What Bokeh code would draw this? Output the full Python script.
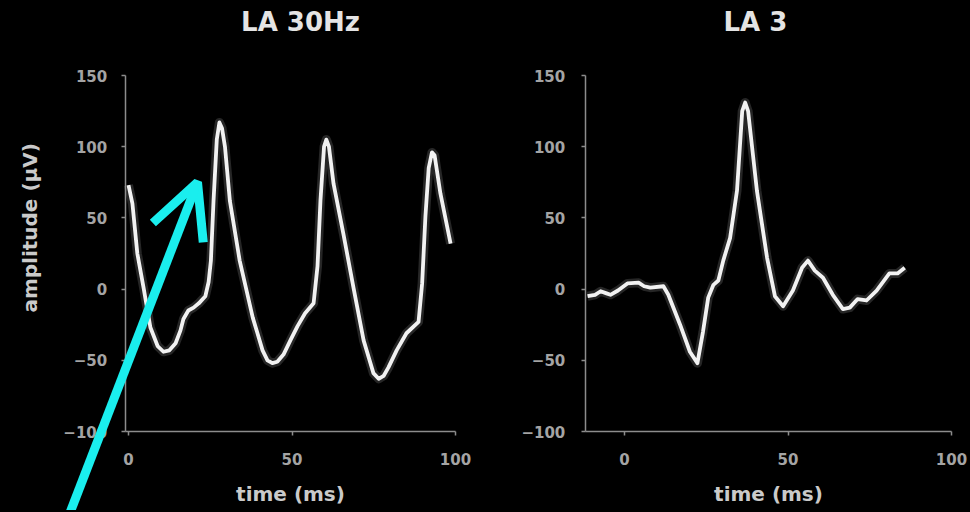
import math
from bokeh.plotting import figure
from bokeh.layouts import row
from bokeh.models import Arrow, OpenHead, FixedTicker, Label, GlobalInlineStyleSheet
from bokeh.embed import file_html
from bokeh.resources import INLINE

# ---- data ----
la30_t = [0, 1.2, 2.7, 4.6, 6.7, 8.9, 10.7, 12.5, 14.4, 15.9, 16.8, 18.3, 19.9, 21.5,
          23.5, 24.5, 25.2, 26, 27, 27.8, 28.6, 29.5, 31, 34, 38, 41, 42.5, 44, 45.5,
          47.4, 49.5, 51.7, 54, 56.6, 57.8, 58.7, 59.8, 60.5, 61.3, 62.7, 65.7, 68.8,
          71.9, 74.9, 76.5, 78, 79.5, 82, 85, 88.7, 89.8, 90.8, 91.8, 92.8, 93.6, 95.4, 98.5]
la30_v = [73, 60, 25, 1, -27, -40, -44, -43, -38, -29, -21, -15, -13, -10,
          -5, 5, 20, 62, 105, 117, 113, 100, 62, 20, -20, -43, -50, -52, -51,
          -46, -36, -26, -17, -10, 16, 62, 100, 105, 100, 74, 39, 1,
          -36, -59, -63, -61, -55, -43, -31, -23, 4, 51, 85, 96, 94, 67, 32]

la3_t = [-11.3, -9, -7.3, -5.5, -4.3, -2, 0.9, 4.3, 6, 7.9, 11.9, 13.4, 17, 20, 22.3,
         24, 25.6, 27.2, 28.7, 30.2, 32.3, 34.4, 36, 36.9, 37.8, 40.5, 43.6, 46, 48.5,
         51.5, 54.3, 56.1, 58.2, 60.7, 63.7, 66.8, 68.9, 71.3, 74, 77.1, 81, 83.5, 85.7]
la3_v = [-5, -4, -1.5, -3, -4, -1, 4, 4.5, 2, 1, 2, -4, -25, -44, -52,
         -30, -6, 3, 6, 20, 36, 69, 125, 131, 125, 69, 22, -5, -12,
         -1, 15, 20, 13, 8, -4, -14, -13, -7, -8, -1, 11, 11, 15]

y_ticks = [-100, -50, 0, 50, 100, 150]
x_ticks = [0, 50, 100]
y_bounds = (-100, 150)
x_bounds_30 = (-1, 100)
x_bounds_3 = (-12, 100)
titles = ["LA 30Hz", "LA 3"]
x_label = "time (ms)"
y_label = "amplitude (µV)"

arrow_start = (-19.9, -169)
arrow_end = (21.1, 75)

FONT = "DejaVu Sans"
BG = "#000000"

# ---- layout geometry (pixels) ----
W, H = 484, 510
FRAME_TOP_PX = 75          # where y=150 sits, from canvas top
PX_PER_UNIT = 1.424        # vertical px per µV
PX_PER_MS = 3.27


def make_panel(t, v, title, zero_px, x_bounds, title_x):
    x0 = -zero_px / PX_PER_MS
    x1 = (W - zero_px) / PX_PER_MS
    y1 = y_bounds[1] + FRAME_TOP_PX / PX_PER_UNIT
    y0 = y_bounds[1] - (H - FRAME_TOP_PX) / PX_PER_UNIT
    p = figure(width=W, height=H, x_range=(x0, x1), y_range=(y0, y1),
               output_backend="svg", toolbar_location=None,
               min_border=0)
    p.background_fill_color = BG
    p.border_fill_color = BG
    p.outline_line_color = None
    p.grid.grid_line_color = None

    for ax in (p.xaxis[0], p.yaxis[0]):
        ax.axis_line_color = "#8c8c8c"
        ax.axis_line_width = 1.5
        ax.major_tick_line_color = "#8c8c8c"
        ax.major_tick_line_width = 1.5
        ax.major_tick_in = 0
        ax.major_tick_out = 4
        ax.minor_tick_line_color = None
        ax.major_label_text_font = FONT
        ax.major_label_text_font_size = "15px"
        ax.major_label_text_font_style = "bold"
        ax.major_label_text_color = "#a4a4a4"
        ax.axis_label_text_font = FONT
        ax.axis_label_text_font_style = "bold"
        ax.axis_label_text_color = "#cacaca"
        ax.axis_label_text_font_size = "20px"

    p.xaxis.fixed_location = y_bounds[0]
    p.xaxis.bounds = x_bounds
    p.yaxis.fixed_location = x_bounds[0]
    p.yaxis.bounds = y_bounds
    p.xaxis.ticker = FixedTicker(ticks=x_ticks)
    p.yaxis.ticker = FixedTicker(ticks=y_ticks)
    p.xaxis.major_label_standoff = 17
    p.yaxis.major_label_standoff = 14
    p.xaxis.axis_label = x_label
    p.xaxis.axis_label_standoff = 14

    p.add_layout(Label(x=title_x, y=y_bounds[1] + 54 / PX_PER_UNIT, text=title,
                       text_align="center", text_baseline="alphabetic",
                       text_font=FONT, text_font_size="26px", text_font_style="bold",
                       text_color="#e4e4e4"))

    p.line(t, v, line_color="#ffffff", line_width=9, line_alpha=0.15, line_join="round")
    p.line(t, v, line_color="#f2f2f2", line_width=3.8, line_join="round")
    return p


p1 = make_panel(la30_t, la30_v, titles[0], 128, x_bounds_30, 52.6)
p2 = make_panel(la3_t, la3_v, titles[1], 624 - W, x_bounds_3, 40)
p2.yaxis.major_label_standoff = 16

# rotated y-axis title of the left panel
p1.add_layout(Label(x=-30, y=43, text=y_label, angle=math.pi / 2,
                    text_align="center", text_baseline="middle",
                    text_font=FONT, text_font_size="20px", text_font_style="bold",
                    text_color="#cacaca"))

arrow = Arrow(x_start=arrow_start[0], y_start=arrow_start[1],
              x_end=arrow_end[0], y_end=arrow_end[1],
              line_color="#1aeeee", line_width=9,
              end=OpenHead(size=54, line_color="#1aeeee", line_width=9))
p1.add_layout(arrow)

layout = row(p1, p2)
layout.stylesheets = [GlobalInlineStyleSheet(css="body { background-color: #000000; }")]

open("out.html", "w").write(file_html(layout, INLINE))
